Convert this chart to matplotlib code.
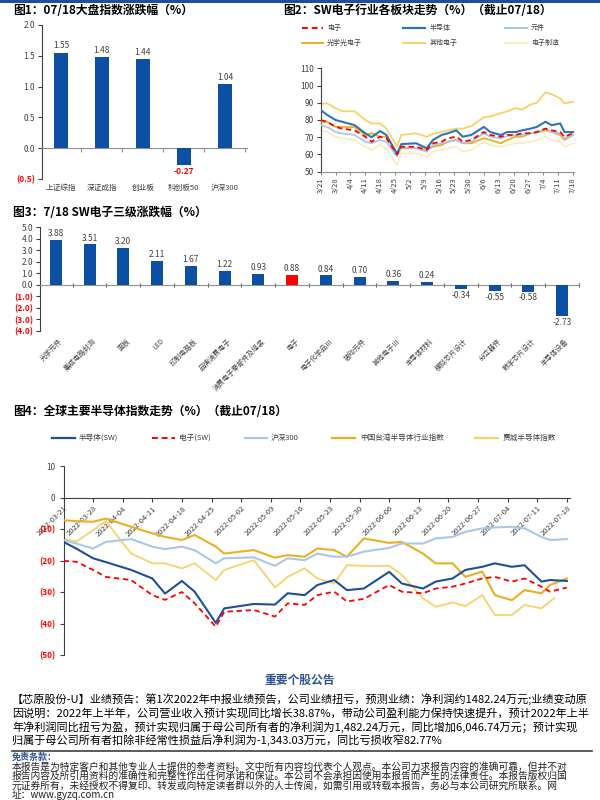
import numpy as np
import pandas as pd
import matplotlib
matplotlib.use("Agg")
import matplotlib.pyplot as plt
from matplotlib.lines import Line2D
from matplotlib.patches import Rectangle
import matplotlib.transforms as mtransforms

plt.rcParams['font.family'] = ['Noto Sans CJK SC', 'DejaVu Sans']
plt.rcParams['axes.unicode_minus'] = False

# ---------------- data ----------------
# Fig 1
f1_cats = ['上证综指', '深证成指', '创业板', '科创板50', '沪深300']
f1_vals = [1.55, 1.48, 1.44, -0.27, 1.04]
f1_yticks = [2.0, 1.5, 1.0, 0.5, 0.0, -0.5]
f1_ylabels = ['2.0', '1.5', '1.0', '0.5', '0.0', '(0.5)']

# Fig 2
f2_dates = ['03-21', '03-24', '03-28', '03-31', '04-06', '04-11', '04-14', '04-18',
            '04-21', '04-26', '04-28', '05-05', '05-10', '05-13', '05-17', '05-20',
            '05-24', '05-27', '05-31', '06-06', '06-09', '06-14', '06-17', '06-21',
            '06-24', '06-28', '07-01', '07-05', '07-08', '07-12', '07-14', '07-18']
f2_dianzi = [80.0, 79.0, 76.0, 75.0, 74.0, 70.3, 67.4, 70.3, 69.4, 60.0, 64.5, 64.5, 62.6, 66.5, 67.4, 69.4,
             70.3, 67.4, 68.4, 73.0, 71.3, 70.3, 71.3, 71.3, 72.3, 72.3, 73.0, 75.0, 74.0, 73.0, 70.3, 72.3]
f2_bandaoti = [85.8, 83.0, 80.0, 79.0, 77.0, 72.3, 70.0, 73.6, 71.3, 60.3, 66.0, 66.5, 63.6, 68.4, 71.3, 72.3,
               74.0, 70.3, 71.3, 76.0, 73.0, 71.3, 73.0, 73.0, 74.0, 75.0, 76.0, 79.0, 77.0, 78.0, 73.0, 73.0]
f2_yuanjian = [77.0, 76.0, 73.0, 72.3, 71.3, 67.4, 66.5, 68.4, 67.4, 58.7, 64.5, 63.6, 61.6, 65.5, 66.5, 67.4,
               68.4, 66.5, 67.4, 72.3, 70.3, 69.4, 70.7, 71.3, 71.3, 72.3, 73.0, 75.0, 73.0, 72.3, 69.4, 71.3]
f2_guangxue = [78.5, 79.0, 76.0, 76.0, 75.8, 71.3, 72.3, 70.3, 70.3, 60.7, 63.6, 63.6, 62.6, 64.5, 65.5, 67.4,
               68.4, 66.5, 66.5, 69.4, 68.4, 66.5, 68.4, 70.3, 70.3, 72.3, 72.7, 74.0, 73.0, 71.3, 68.4, 71.3]
f2_qita = [89.3, 89.7, 86.8, 85.2, 85.0, 80.0, 78.0, 78.0, 75.0, 64.5, 71.3, 72.3, 70.3, 72.0, 73.0, 74.0,
           75.0, 75.0, 76.5, 81.6, 82.0, 84.0, 85.0, 87.0, 86.0, 89.0, 90.0, 96.0, 95.0, 92.5, 89.7, 90.5]
f2_zhizao = [73.3, 73.3, 70.3, 69.4, 68.4, 64.5, 62.6, 65.5, 63.6, 53.9, 60.7, 60.7, 58.7, 61.6, 62.6, 63.6,
             64.5, 61.6, 62.6, 67.4, 65.5, 64.5, 65.5, 66.5, 66.5, 67.4, 68.4, 70.3, 68.4, 67.4, 64.5, 66.5]
f2_ticks = ['3/21', '3/28', '4/4', '4/11', '4/18', '4/25', '5/2', '5/9', '5/16', '5/23', '5/30',
            '6/6', '6/13', '6/20', '6/27', '7/4', '7/11', '7/18']

# Fig 3
f3_cats = ['光学元件', '集成电路封测', '面板', 'LED', '印制电路板', '品牌消费电子',
           '消费电子零部件及组装', '电子', '电子化学品Ⅲ', '被动元件', '其他电子Ⅲ', '半导体材料',
           '模拟芯片设计', '分立器件', '数字芯片设计', '半导体设备']
f3_vals = [3.88, 3.51, 3.20, 2.11, 1.67, 1.22, 0.93, 0.88, 0.84, 0.70, 0.36, 0.24,
           -0.34, -0.55, -0.58, -2.73]
f3_yticks = [5, 4, 3, 2, 1, 0, -1, -2, -3, -4]
f3_ylabels = ['5.0', '4.0', '3.0', '2.0', '1.0', '0.0', '(1.0)', '(2.0)', '(3.0)', '(4.0)']

# Fig 4
f4_dates = f2_dates
f4_sox_dates = f2_dates[:-1] + ['07-15']
f4_semi = [-14.1, -16.2, -19.3, -20.5, -23.0, -25.7, -30.5, -26.5, -29.9, -39.8, -35.2, -33.8, -34.0, -30.4, -31.0, -27.8,
           -26.2, -29.4, -28.9, -23.6, -27.3, -28.9, -26.7, -25.7, -23.0, -22.0, -20.9, -22.0, -21.5, -26.7, -26.2, -26.5]
f4_elec = [-20.1, -20.4, -23.0, -25.2, -26.2, -31.0, -32.5, -30.0, -33.6, -41.0, -36.3, -35.7, -37.8, -33.6, -34.1, -31.0,
           -29.9, -33.0, -32.2, -27.8, -29.9, -30.4, -28.9, -28.3, -27.3, -25.7, -25.2, -26.7, -25.7, -28.3, -29.9, -28.6]
f4_hs300 = [-13.5, -14.6, -16.2, -14.1, -13.2, -15.6, -16.4, -15.6, -16.7, -20.9, -19.3, -19.0, -21.7, -19.3, -19.9, -17.8,
            -18.8, -18.8, -17.2, -16.0, -14.6, -14.6, -13.0, -12.5, -10.9, -9.8, -9.5, -9.3, -9.8, -12.5, -13.5, -13.2]
f4_taiwan = [-7.2, -7.5, -7.7, -6.7, -9.3, -11.4, -12.5, -13.5, -11.9, -15.6, -17.8, -16.7, -19.1, -18.3, -18.8, -16.2,
             -16.7, -18.8, -13.0, -14.4, -14.1, -17.8, -20.9, -20.9, -25.2, -23.5, -31.0, -32.6, -29.4, -30.4, -27.8, -25.7]
f4_sox = [-13.0, -14.0, -10.4, -7.5, -17.8, -20.9, -20.9, -22.5, -20.9, -26.2, -23.0, -19.9, -28.6, -25.2, -22.5, -25.7,
          -27.3, -21.5, -21.7, -21.7, -24.6, -32.0, -34.7, -33.3, -34.5, -31.0, -37.3, -37.3, -34.1, -35.2, -33.0, -32.0]
f4_ticks = ['2022-03-21', '2022-03-28', '2022-04-04', '2022-04-11', '2022-04-18', '2022-04-25',
            '2022-05-02', '2022-05-09', '2022-05-16', '2022-05-23', '2022-05-30', '2022-06-06',
            '2022-06-13', '2022-06-20', '2022-06-27', '2022-07-04', '2022-07-11', '2022-07-18']
f4_yticks = [10, 0, -10, -20, -30, -40, -50]
f4_ylabels = ['10', '0', '(10)', '(20)', '(30)', '(40)', '(50)']

para_lines = [
    '【芯原股份-U】业绩预告：第1次2022年中报业绩预告，公司业绩扭亏，预测业绩：净利润约1482.24万元;业绩变动原',
    '因说明：2022年上半年，公司营业收入预计实现同比增长38.87%，带动公司盈利能力保持快速提升，预计2022年上半',
    '年净利润同比扭亏为盈，预计实现归属于母公司所有者的净利润为1,482.24万元，同比增加6,046.74万元；预计实现',
    '归属于母公司所有者扣除非经常性损益后净利润为-1,343.03万元，同比亏损收窄82.77%',
]
disc_lines = [
    '本报告是为特定客户和其他专业人士提供的参考资料。文中所有内容均代表个人观点。本公司力求报告内容的准确可靠，但并不对',
    '报告内容及所引用资料的准确性和完整性作出任何承诺和保证。本公司不会承担因使用本报告而产生的法律责任。本报告版权归国',
    '元证券所有，未经授权不得复印、转发或向特定读者群以外的人士传阅，如需引用或转载本报告，务必与本公司研究所联系。网',
    '址：www.gyzq.com.cn',
]

# ---------------- styles ----------------
W, H = 600, 800
BLUE = '#0D4FA3'
RED = '#FF0000'
GRAY = '#404040'
C_SEMI = '#2E75B6'
C_YJ = '#A9C8E8'
C_GX = '#EAB020'
C_QT = '#F6D36A'
C_ZZ = '#FBEBB8'


def fx(x):
    return x / W


def fy(y):
    return 1 - y / H


def rect(x0, y0, x1, y1):
    return [fx(x0), fy(y1), fx(x1 - x0), (y1 - y0) / H]


fig = plt.figure(figsize=(6, 8), dpi=100)
fig.patch.set_facecolor('white')

# top blue bar
fig.add_artist(Rectangle((0, fy(2.5)), 1, 2.5 / H, transform=fig.transFigure,
                         color='#1F4E9C', lw=0))


def legend_item(x0, x1, xt, y, color, ls, lw, text, fs=5.5):
    fig.add_artist(Line2D([fx(x0), fx(x1)], [fy(y), fy(y)], transform=fig.transFigure,
                          color=color, ls=ls, lw=lw))
    fig.text(fx(xt), fy(y), text, fontsize=fs, va='center', ha='left', color=GRAY)


def style_yticks(ax, ticks, labels, fs=6):
    ax.set_yticks(ticks)
    ax.set_yticklabels(labels, fontsize=fs)
    for t, lab in zip(ax.get_yticklabels(), labels):
        if lab.startswith('('):
            t.set_color(RED)
            t.set_fontweight('bold')
        else:
            t.set_color(GRAY)


# ---------------- Fig 1 ----------------
fig.text(fx(13), fy(11), '图1：07/18大盘指数涨跌幅（%）', fontsize=8.5, weight='bold', va='center')
ax1 = fig.add_axes(rect(42, 25, 247, 179))
x1 = np.arange(len(f1_cats))
ax1.bar(x1, f1_vals, width=0.33, color=BLUE, zorder=3)
ax1.set_xlim(-0.46, 4.54)
ax1.set_ylim(-0.5, 2.0)
style_yticks(ax1, f1_yticks, f1_ylabels)
for s in ['top', 'right']:
    ax1.spines[s].set_visible(False)
ax1.spines['bottom'].set_position(('data', 0))
ax1.spines['bottom'].set_color('#909090')
ax1.spines['left'].set_color(GRAY)
ax1.set_xticks(np.arange(0.5, 4.6, 1))
ax1.set_xticklabels([])
ax1.tick_params(axis='x', length=3, color='#909090', direction='out')
ax1.tick_params(axis='y', length=3, color=GRAY, pad=2)
tr1 = mtransforms.blended_transform_factory(ax1.transData, ax1.transAxes)
for i, (c, v) in enumerate(zip(f1_cats, f1_vals)):
    ax1.text(i, -0.058, c, transform=tr1, ha='center', va='center', fontsize=5.5, color=GRAY)
    if v >= 0:
        ax1.text(i, v + 0.04, f'{v:.2f}', ha='center', va='bottom', fontsize=6, color=GRAY)
    else:
        ax1.text(i, v - 0.03, f'{v:.2f}', ha='center', va='top', fontsize=6, color=RED, weight='bold')

# ---------------- Fig 2 ----------------
fig.text(fx(283), fy(11), '图2：SW电子行业各板块走势（%）（截止07/18）', fontsize=8.5, weight='bold', va='center')
ax2 = fig.add_axes(rect(320.7, 68.3, 574, 171.7))
d2 = pd.to_datetime(['2022-' + d for d in f2_dates])
ax2.plot(d2, f2_zhizao, color=C_ZZ, lw=1.1, zorder=2)
ax2.plot(d2, f2_qita, color=C_QT, lw=1.3, zorder=2)
ax2.plot(d2, f2_guangxue, color=C_GX, lw=1.3, zorder=3)
ax2.plot(d2, f2_yuanjian, color=C_YJ, lw=1.3, zorder=3)
ax2.plot(d2, f2_bandaoti, color=C_SEMI, lw=1.5, zorder=4)
ax2.plot(d2, f2_dianzi, color=RED, lw=1.3, ls=(0, (3, 2)), zorder=5)
ax2.set_xlim(pd.Timestamp('2022-03-21'), pd.Timestamp('2022-07-18 12:00'))
ax2.set_ylim(50, 110)
t2 = pd.to_datetime(['2022-' + s.replace('/', '-') for s in
                     ['03/21', '03/28', '04/04', '04/11', '04/18', '04/25', '05/02', '05/09', '05/16',
                      '05/23', '05/30', '06/06', '06/13', '06/20', '06/27', '07/04', '07/11', '07/18']])
ax2.set_xticks(t2)
ax2.set_xticklabels(f2_ticks, rotation=90, fontsize=5.5, color=GRAY)
ax2.set_yticks(np.arange(50, 111, 10))
ax2.set_yticklabels([str(v) for v in range(50, 111, 10)], fontsize=6, color=GRAY)
for s in ['top', 'right']:
    ax2.spines[s].set_visible(False)
ax2.spines['left'].set_color(GRAY)
ax2.spines['bottom'].set_color('#909090')
ax2.tick_params(axis='x', length=2, color='#909090', pad=2)
ax2.tick_params(axis='y', length=3, color=GRAY, pad=2)

legend_item(301.7, 323, 327, 28, RED, (0, (3, 2)), 1.4, '电子', 5)
legend_item(403, 425, 430, 28, C_SEMI, '-', 1.6, '半导体', 5)
legend_item(505, 527, 531, 28, C_YJ, '-', 1.4, '元件', 5)
legend_item(301.7, 323, 327, 43, C_GX, '-', 1.4, '光学光电子', 5)
legend_item(403, 425, 430, 43, C_QT, '-', 1.4, '其他电子', 5)
legend_item(505, 527, 531, 43, C_ZZ, '-', 1.4, '电子制造', 5)

# ---------------- Fig 3 ----------------
fig.text(fx(13), fy(212), '图3：7/18 SW电子三级涨跌幅（%）', fontsize=8.5, weight='bold', va='center')
ax3 = fig.add_axes(rect(40, 227.3, 579, 331))
x3 = np.arange(len(f3_cats))
cols3 = [RED if c == '电子' else BLUE for c in f3_cats]
ax3.bar(x3, f3_vals, width=0.36, color=cols3, zorder=3)
ax3.set_xlim(-0.47, 15.48)
ax3.set_ylim(-4, 5)
style_yticks(ax3, f3_yticks, f3_ylabels)
for s in ['top', 'right']:
    ax3.spines[s].set_visible(False)
ax3.spines['bottom'].set_position(('data', 0))
ax3.spines['bottom'].set_color('#909090')
ax3.spines['left'].set_color(GRAY)
ax3.set_xticks(np.arange(0.5, 15.6, 1))
ax3.set_xticklabels([])
ax3.tick_params(axis='x', length=3, color='#606060', direction='inout')
ax3.tick_params(axis='y', length=3, color=GRAY, pad=2)
tr3 = mtransforms.blended_transform_factory(ax3.transData, ax3.transAxes)
for i, (c, v) in enumerate(zip(f3_cats, f3_vals)):
    ax3.text(i + 0.08, -0.06, c, transform=tr3, ha='right', va='top', rotation=45,
             rotation_mode='anchor', fontsize=5, color=GRAY)
    if v >= 0:
        ax3.text(i, v + 0.15, f'{v:.2f}', ha='center', va='bottom', fontsize=6, color=GRAY)
    else:
        ax3.text(i, v - 0.15, f'{v:.2f}', ha='center', va='top', fontsize=6, color=GRAY)

# ---------------- Fig 4 ----------------
fig.text(fx(13), fy(411), '图4：全球主要半导体指数走势（%）（截止07/18）', fontsize=8.5, weight='bold', va='center')
ax4 = fig.add_axes(rect(63.5, 466, 570, 655))
d4 = pd.to_datetime(['2022-' + d for d in f4_dates])
d4s = pd.to_datetime(['2022-' + d for d in f4_sox_dates])
ax4.plot(d4s, f4_sox, color=C_QT, lw=1.3, zorder=2)
ax4.plot(d4, f4_taiwan, color=C_GX, lw=1.5, zorder=3)
ax4.plot(d4, f4_hs300, color=C_YJ, lw=1.5, zorder=3)
ax4.plot(d4, f4_semi, color='#1F4E9C', lw=1.5, zorder=4)
ax4.plot(d4, f4_elec, color=RED, lw=1.3, ls=(0, (3, 2)), zorder=5)
ax4.set_xlim(pd.Timestamp('2022-03-21'), pd.Timestamp('2022-07-18 18:00'))
ax4.set_ylim(-50, 10)
style_yticks(ax4, f4_yticks, f4_ylabels)
for s in ['top', 'right']:
    ax4.spines[s].set_visible(False)
ax4.spines['bottom'].set_position(('data', 0))
ax4.spines['bottom'].set_color(GRAY)
ax4.spines['left'].set_color(GRAY)
ax4.set_xticks(pd.to_datetime(f4_ticks))
ax4.set_xticklabels(f4_ticks, rotation=45, ha='right', va='top', rotation_mode='anchor',
                    fontsize=5.5, color=GRAY)
ax4.tick_params(axis='x', length=3, color=GRAY, pad=2)
ax4.tick_params(axis='y', length=3, color=GRAY, pad=3)

legend_item(52, 75, 79, 438, '#1F4E9C', '-', 1.6, '半导体(SW)', 5.5)
legend_item(152, 175, 179, 438, RED, (0, (3, 2)), 1.4, '电子(SW)', 5.5)
legend_item(245, 267, 271, 438, C_YJ, '-', 1.6, '沪深300', 5.5)
legend_item(332, 355, 360, 438, C_GX, '-', 1.6, '中国台湾半导体行业指数', 5.5)
legend_item(475, 498, 503, 438, C_QT, '-', 1.6, '费城半导体指数', 5.5)

# ---------------- text block ----------------
fig.text(0.5, fy(680), '重要个股公告', ha='center', va='center', color='#2F5597', fontsize=8.5, weight='bold')
for y, line in zip([699, 713.5, 727, 740], para_lines):
    fig.text(fx(12), fy(y), line, fontsize=8, va='center', ha='left', color='black')
fig.add_artist(Line2D([fx(12), fx(592)], [fy(750.5), fy(750.5)], transform=fig.transFigure,
                      color=GRAY, lw=1.2))
fig.text(fx(12), fy(757), '免责条款：', fontsize=6.5, color='#2F5597', weight='bold', va='center')
for y, line in zip([766.5, 776, 785.5, 794.5], disc_lines):
    fig.text(fx(12), fy(y), line, fontsize=7, va='center', ha='left', color='#222222')

fig.savefig('out.png', dpi=100, facecolor='white')
